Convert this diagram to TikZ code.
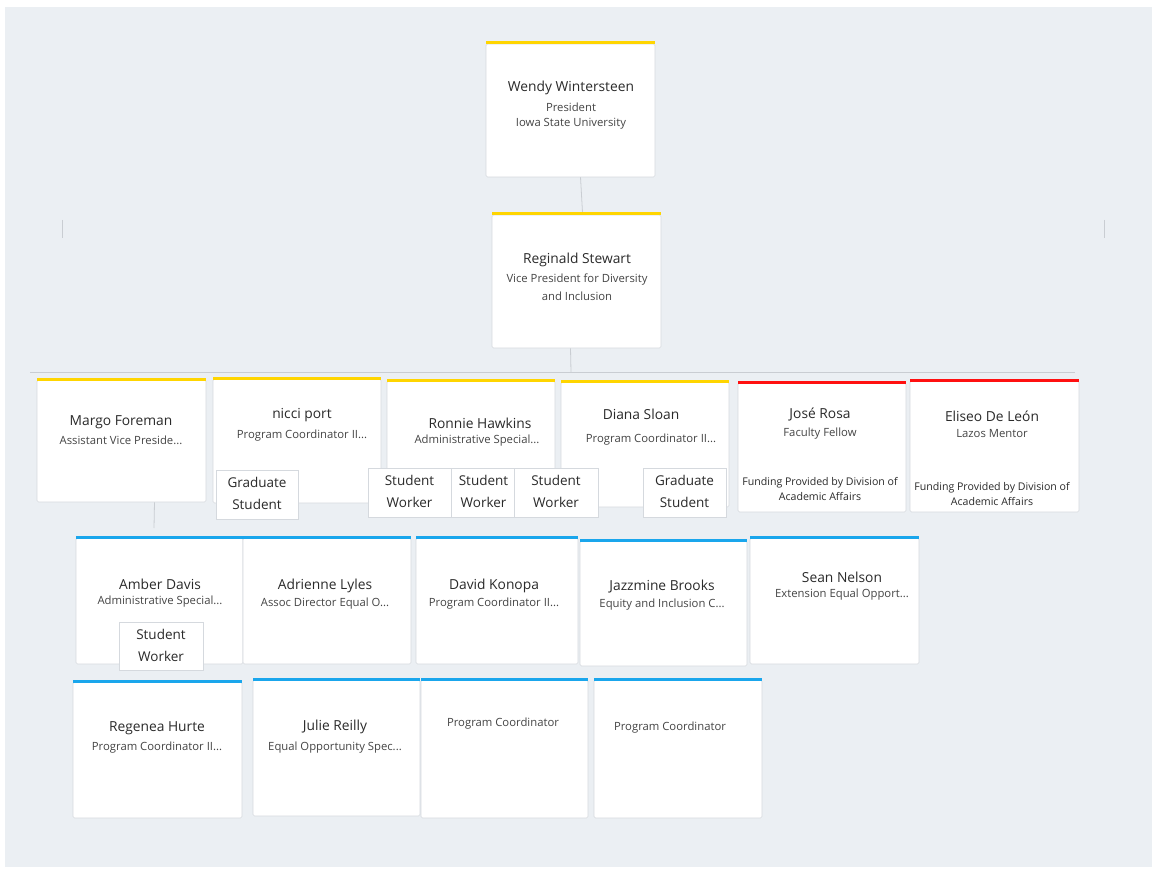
\documentclass[tikz,border=0pt]{standalone}
\usepackage{fontspec}
\setmainfont{Open Sans}
\usetikzlibrary{fit}
\definecolor{bgc}{HTML}{EBEFF3}
\definecolor{ylw}{HTML}{FFD500}
\definecolor{rd}{HTML}{FF1010}
\definecolor{blu}{HTML}{1AA6EC}
\definecolor{edge}{HTML}{D5D9DE}
\definecolor{txt}{HTML}{2A2A2A}
\definecolor{subtxt}{HTML}{444444}
\definecolor{conn}{HTML}{C9CDD2}
\pgfdeclarelayer{bglayer}
\pgfdeclarelayer{linelayer}
\pgfsetlayers{bglayer,linelayer,main}
\tikzset{
  card/.style={draw=edge, line width=0.6pt, fill=white, rounded corners=1.5pt, inner sep=0pt, outer sep=0pt},
  smallbox/.style={draw=edge, line width=0.6pt, fill=white, inner sep=0pt, outer sep=0pt},
  smalltxt/.style={align=center, text=txt, font=\fontsize{13.5}{20}\selectfont, inner sep=0pt},
  nm/.style={text=txt, font=\fontsize{13.8}{15}\selectfont, inner sep=0pt},
  sb/.style={text=subtxt, font=\fontsize{11.3}{12}\selectfont, inner sep=0pt},
  fund/.style={text=txt, font=\fontsize{10.6}{14.5}\selectfont, inner sep=0pt, align=center},
  connector/.style={draw=conn, line width=0.8pt}
}
\newcommand\mycard[6]{%
  \node[card, fit={(#2,#3) (#4,#5)}] (#1) {};
  \fill[#6] ([yshift=-0.5pt]#1.north west) rectangle ([yshift=2.5pt]#1.north east);
}
\newcommand\mysmall[7]{%
  \node[smallbox, fit={(#2,#3) (#4,#5)}] (#1) {};
  \node[smalltxt] (#1T) at ([yshift=1pt]#1.center) {#6\\[2pt]#7};
}
\begin{document}
\begin{tikzpicture}[x=1pt,y=-1pt]
\useasboundingbox (0,0) rectangle (1154,869);
\begin{pgfonlayer}{bglayer}
\fill[bgc] (5,7) rectangle (1152,867);
\end{pgfonlayer}

% level 1 and 2
\mycard{wendy}{486}{44}{655}{177}{ylw}
\node[nm] (wendyN) at (571,88) {Wendy Wintersteen};
\node[sb] (wendyS1) at (571,107) {President};
\node[sb] (wendyS2) at (571,124) {Iowa State University};

\mycard{reg}{492}{215}{661}{348}{ylw}
\node[nm] (regN) at (577,260) {Reginald Stewart};
\node[sb] (regS1) at (577,280) {Vice President for Diversity};
\node[sb] (regS2) at (577,296) {and Inclusion};

% row 2
\mycard{margo}{37}{380}{206}{502}{ylw}
\node[nm] (margoN) at (121,422) {Margo Foreman};
\node[sb] (margoS) at (121,440) {Assistant Vice Preside...};

\mycard{nicci}{213}{379}{381}{503}{ylw}
\node[nm] (nicciN) at (302,415) {nicci port};
\node[sb] (nicciS) at (302,436) {Program Coordinator II...};

\mycard{ronnie}{387}{381}{555}{506}{ylw}
\node[nm] (ronnieN) at (480,423) {Ronnie Hawkins};
\node[sb] (ronnieS) at (477,441) {Administrative Special...};

\mycard{diana}{561}{382}{729}{507}{ylw}
\node[nm] (dianaN) at (641,414) {Diana Sloan};
\node[sb] (dianaS) at (651,440) {Program Coordinator II...};

\mycard{jose}{738}{383}{906}{512}{rd}
\node[nm] (joseN) at (820,415) {José Rosa};
\node[sb] (joseS) at (820,434) {Faculty Fellow};
\node[fund] (joseF) at (820,489) {Funding Provided by Division of\\Academic Affairs};

\mycard{eliseo}{910}{381}{1079}{512}{rd}
\node[nm] (eliseoN) at (992,416) {Eliseo De León};
\node[sb] (eliseoS) at (992,434) {Lazos Mentor};
\node[fund] (eliseoF) at (992,494) {Funding Provided by Division of\\Academic Affairs};

% small boxes row 2
\mysmall{grad1}{216}{470}{298}{519}{Graduate}{Student}
\mysmall{sw1}{368}{468}{451}{517}{Student}{Worker}
\mysmall{sw2}{451}{468}{516}{517}{Student}{Worker}
\mysmall{sw3}{514}{468}{598}{517}{Student}{Worker}
\mysmall{grad2}{643}{468}{726}{517}{Graduate}{Student}

% row 3
\mycard{amber}{76}{538}{243}{664}{blu}
\node[nm] (amberN) at (160,584) {Amber Davis};
\node[sb] (amberS) at (160,602) {Administrative Special...};

\mycard{adrienne}{243}{538}{411}{664}{blu}
\node[nm] (adrienneN) at (325,586) {Adrienne Lyles};
\node[sb] (adrienneS) at (325,604) {Assoc Director Equal O...};

\mycard{david}{416}{538}{578}{664}{blu}
\node[nm] (davidN) at (494,586) {David Konopa};
\node[sb] (davidS) at (494,604) {Program Coordinator II...};

\mycard{jazz}{580}{541}{747}{666}{blu}
\node[nm] (jazzN) at (662,587) {Jazzmine Brooks};
\node[sb] (jazzS) at (662,605) {Equity and Inclusion C...};

\mycard{sean}{750}{538}{919}{664}{blu}
\node[nm] (seanN) at (842,577) {Sean Nelson};
\node[sb] (seanS) at (842,595) {Extension Equal Opport...};

\mysmall{sw4}{119}{622}{203}{670}{Student}{Worker}

% row 4
\mycard{regenea}{73}{682}{242}{818}{blu}
\node[nm] (regeneaN) at (157,728) {Regenea Hurte};
\node[sb] (regeneaS) at (157,748) {Program Coordinator II...};

\mycard{julie}{253}{680}{420}{816}{blu}
\node[nm] (julieN) at (335,727) {Julie Reilly};
\node[sb] (julieS) at (335,748) {Equal Opportunity Spec...};

\mycard{pc1}{421}{680}{588}{818}{blu}
\node[sb] (pc1S) at (503,724) {Program Coordinator};

\mycard{pc2}{594}{680}{762}{818}{blu}
\node[sb] (pc2S) at (670,728) {Program Coordinator};

% connectors
\coordinate (busL) at (30,372);
\coordinate (busR) at (1075,372);
\coordinate (busM) at (571,372);
\coordinate (margoEnd) at (154,528);
\coordinate (tickLa) at (62,220);
\coordinate (tickLb) at (62,238);
\coordinate (tickRa) at (1104,220);
\coordinate (tickRb) at (1104,238);
\begin{pgfonlayer}{linelayer}
\draw[connector] ([xshift=10pt]wendy.south) -- ([xshift=6pt,yshift=2.5pt]reg.north);
\draw[connector] ([xshift=-6pt]reg.south) -- (busM);
\draw[connector] (busL) -- (busR);
\draw[connector] ([xshift=33pt]margo.south) -- (margoEnd);
\draw[connector] (tickLa) -- (tickLb);
\draw[connector] (tickRa) -- (tickRb);
\end{pgfonlayer}
\end{tikzpicture}
\end{document}
